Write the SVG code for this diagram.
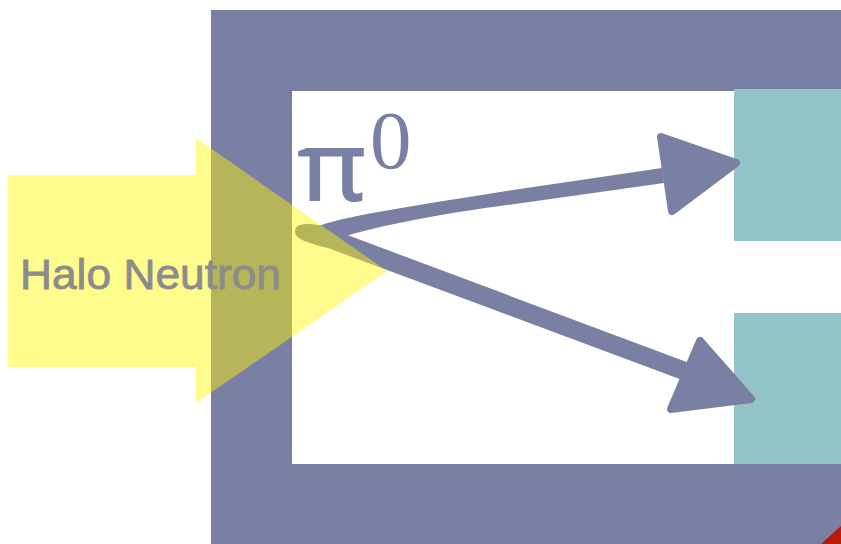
<svg xmlns="http://www.w3.org/2000/svg" width="841" height="544" viewBox="0 0 841 544">
<style>
.frame{fill:#7a80a4}
.det{fill:#93c4c7}
.ray{fill:#7a80a4}
.head{fill:#7a80a4;stroke:#7a80a4;stroke-width:8;stroke-linejoin:round}
.beam{fill:#fff600;fill-opacity:0.45}
.lbl{font-family:"Liberation Sans","Lato",sans-serif;fill:#8c8c8c;stroke:#8c8c8c;stroke-width:0.8}
.pi{font-family:"Open Sans","DejaVu Sans",sans-serif;fill:#7a80a4;stroke:#7a80a4;stroke-width:2}
.zero{font-family:"Liberation Serif",serif;fill:#7a80a4}
</style>
<rect width="841" height="544" fill="#ffffff"/>
<g id="frame">
<rect class="frame" x="211" y="10" width="630" height="534"/>
<rect x="292" y="91" width="549" height="373" fill="#ffffff"/>
<polygon points="821,544 841,526 841,544" fill="#b81a06"/>
</g>
<g id="detector-top"><rect class="det" x="734" y="89" width="107" height="152"/></g>
<g id="detector-bottom"><rect class="det" x="734" y="313" width="107" height="151"/></g>
<g id="connectors">
<path class="ray" d="M316,227 C340,217 400,208 500,192 L662,168 L664,183 L500,206 C420,217 360,230 335,240 Z"/>
<polygon class="head" points="661,137 736,163 672,211"/>
<path class="ray" d="M295,231 C295,222 312,223 326,227 L692,364 L685,381 L328,248 C305,242 295,239 295,231 Z"/>
<polygon class="head" points="700,341 751,399 671,409"/>
</g>
<g id="pi0">
<text class="pi" x="298" y="200" font-size="96" textLength="68" lengthAdjust="spacingAndGlyphs">π</text>
<text class="zero" x="370" y="168" font-size="83">0</text>
</g>
<g id="halo-neutron">
<polygon class="beam" points="8,175 196,175 196,138 387,271 196,403 196,367 8,367"/>
<text class="lbl" x="20" y="289" font-size="43" textLength="261" lengthAdjust="spacingAndGlyphs">Halo Neutron</text>
</g>
</svg>
